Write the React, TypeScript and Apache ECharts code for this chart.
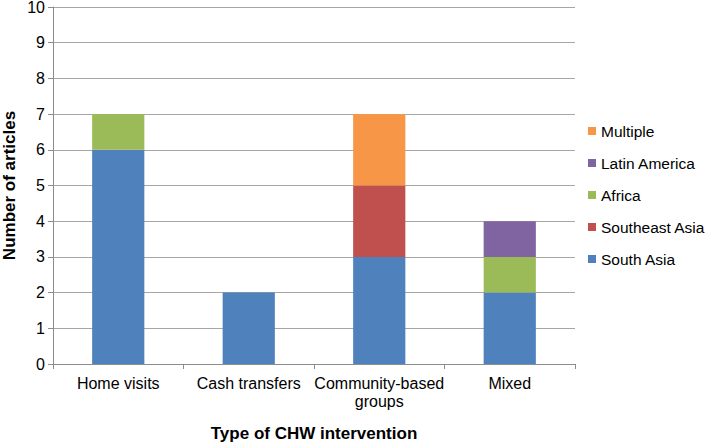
import React, { useEffect, useRef } from "react";
import * as echarts from "echarts";

const categories = ["Home visits", "Cash transfers", "Community-based\ngroups", "Mixed"];
const southAsia = [6, 2, 3, 2];
const southeastAsia = [0, 0, 2, 0];
const africa = [1, 0, 0, 1];
const latinAmerica = [0, 0, 0, 1];
const multiple = [0, 0, 2, 0];
const legendOrder = ["Multiple", "Latin America", "Africa", "Southeast Asia", "South Asia"];

const FONT = "'Liberation Sans', Arial, sans-serif";

export default function App() {
  const ref = useRef<HTMLDivElement>(null);
  useEffect(() => {
    document.body.style.margin = "0";
    if (!ref.current) return;
    const chart = echarts.init(ref.current, null, { renderer: "svg" });
    const mk = (name: string, data: number[], color: string) => ({
      name,
      type: "bar",
      stack: "total",
      data,
      barWidth: "40%",
      itemStyle: { color },
    });
    chart.setOption({
      animation: false,
      textStyle: { fontFamily: FONT },
      grid: { left: 53, right: 133, top: 7, bottom: 80, outerBoundsMode: "none", containLabel: false },
      legend: {
        orient: "vertical",
        left: 583,
        top: 118,
        itemWidth: 8,
        itemHeight: 8,
        itemGap: 16,
        icon: "rect",
        data: legendOrder,
        textStyle: { fontFamily: FONT, fontSize: 15.5, color: "#000", lineHeight: 16 },
      },
      xAxis: {
        type: "category",
        data: categories,
        name: "Type of CHW intervention",
        nameLocation: "middle",
        nameGap: 61,
        nameMoveOverlap: false,
        nameTextStyle: { fontFamily: FONT, fontSize: 17, fontWeight: "bold", color: "#000", lineHeight: 17 },
        axisLine: { lineStyle: { color: "#8c8c8c" } },
        axisTick: { show: true, length: 5, lineStyle: { color: "#8c8c8c" } },
        axisLabel: { fontFamily: FONT, fontSize: 16, color: "#000", margin: 10, lineHeight: 18, interval: 0 },
      },
      yAxis: {
        type: "value",
        min: 0,
        max: 10,
        interval: 1,
        name: "Number of articles",
        nameLocation: "middle",
        nameGap: 35,
        nameMoveOverlap: false,
        nameTextStyle: { fontFamily: FONT, fontSize: 17, fontWeight: "bold", color: "#000", lineHeight: 17 },
        axisLine: { show: true, lineStyle: { color: "#8c8c8c" } },
        axisTick: { show: true, length: 5, lineStyle: { color: "#8c8c8c" } },
        axisLabel: { fontFamily: FONT, fontSize: 16, color: "#000", margin: 8, lineHeight: 12 },
        splitLine: { lineStyle: { color: "#a6a6a6" } },
      },
      series: [
        mk("South Asia", southAsia, "#4F81BD"),
        mk("Southeast Asia", southeastAsia, "#C0504D"),
        mk("Africa", africa, "#9BBB59"),
        mk("Latin America", latinAmerica, "#8064A2"),
        mk("Multiple", multiple, "#F79646"),
      ],
    });
    return () => chart.dispose();
  }, []);
  return <div ref={ref} style={{ width: 708, height: 444 }} />;
}
